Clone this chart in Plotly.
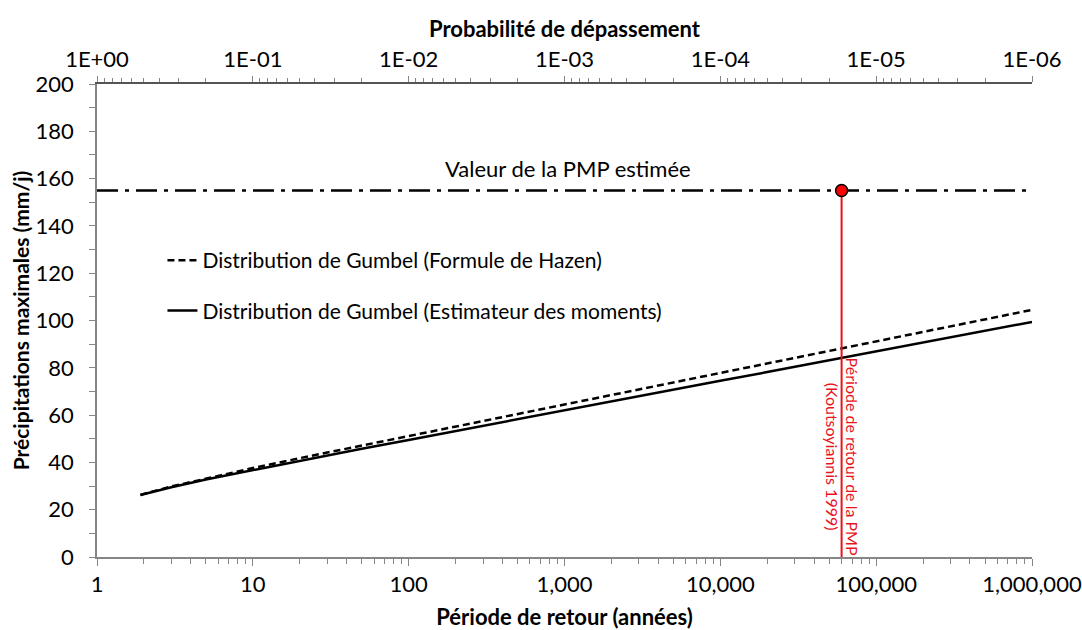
import plotly.graph_objects as go

# Return periods (years) and the two Gumbel fits (mm/j)
periods = [1.9, 2, 3, 5, 10, 20, 50, 100, 200, 500, 1000, 2000, 5000,
           10000, 20000, 50000, 100000, 200000, 500000, 1000000]
gumbel_hazen = [26.2, 26.7, 29.8, 33.2, 37.6, 41.8, 47.1, 51.2, 55.2, 60.5,
                64.5, 68.6, 73.9, 77.9, 81.9, 87.2, 91.2, 95.2, 100.5, 104.5]
gumbel_moments = [26.2, 26.6, 29.5, 32.8, 36.8, 40.7, 45.8, 49.5, 53.3, 58.3,
                  62.0, 65.8, 70.7, 74.5, 78.2, 83.2, 86.9, 90.7, 95.6, 99.4]

# Estimated PMP and its return period (Koutsoyiannis 1999)
pmp_value = 155
pmp_period = 60000
pmp_span = [1, 1000000]

# Axis ticks
period_ticks = [1, 10, 100, 1000, 10000, 100000, 1000000]
period_labels = ["1", "10", "100", "1,000", "10,000", "100,000", "1,000,000"]
prob_ticks = [1, 1e-1, 1e-2, 1e-3, 1e-4, 1e-5, 1e-6]
prob_labels = ["1E+00", "1E-01", "1E-02", "1E-03", "1E-04", "1E-05", "1E-06"]

FONT = "Lato"
AXIS_GREY = "#868686"
RED = "#E8141B"

period_minor = [k * 10 ** d for d in range(6) for k in range(2, 10)]
prob_minor = [k * 10.0 ** (-d - 1) for d in range(6) for k in range(2, 10)]

fig = go.Figure()

fig.add_trace(go.Scatter(
    x=periods, y=gumbel_hazen, mode="lines",
    name="Distribution de Gumbel (Formule de Hazen)",
    line=dict(color="black", width=2.5, dash="7px,4px"),
    legendgroup="a",
))
fig.add_trace(go.Scatter(
    x=periods, y=gumbel_moments, mode="lines",
    name="Distribution de Gumbel (Estimateur des moments)",
    line=dict(color="black", width=2.5),
    legendgroup="b",
))

# PMP level
fig.add_trace(go.Scatter(
    x=pmp_span, y=[pmp_value, pmp_value], mode="lines",
    line=dict(color="black", width=2.5, dash="21px,7px,4px,7px"),
    showlegend=False, hoverinfo="skip",
))

# Return period of the PMP
fig.add_trace(go.Scatter(
    x=[pmp_period, pmp_period], y=[0, pmp_value], mode="lines",
    line=dict(color=RED, width=2),
    showlegend=False, hoverinfo="skip",
))
fig.add_trace(go.Scatter(
    x=[pmp_period], y=[pmp_value], mode="markers",
    marker=dict(color="#FF0000", size=12, line=dict(color="black", width=1.5)),
    showlegend=False,
))

# Empty trace carrying the top probability axis
fig.add_trace(go.Scatter(
    x=[1 / p for p in period_ticks], y=[None] * len(period_ticks),
    xaxis="x2", mode="lines", showlegend=False, hoverinfo="skip",
))

fig.add_annotation(
    x=3.02, y=pmp_value, xref="x", yref="y", yshift=22, showarrow=False,
    text="Valeur de la PMP estimée",
    font=dict(family=FONT, size=22, color="black"),
)
fig.add_annotation(
    x=4.78, y=42.5, xref="x", yref="y", showarrow=False, textangle=90,
    text="Période de retour de la PMP<br>(Koutsoyiannis 1999)",
    font=dict(family=FONT, size=16, color=RED),
)

fig.update_layout(
    width=1082, height=630,
    margin=dict(l=97, r=50, t=84, b=73),
    paper_bgcolor="white", plot_bgcolor="white",
    font=dict(family=FONT, size=22, color="black"),
    showlegend=True,
    legend=dict(
        x=0.07, y=0.67, xanchor="left", yanchor="top",
        bgcolor="rgba(0,0,0,0)", font=dict(size=21),
        traceorder="grouped", tracegroupgap=20,
    ),
    xaxis=dict(
        type="log", range=[0, 6], automargin=False,
        tickmode="array", tickvals=period_ticks, ticktext=period_labels,
        ticks="outside", ticklen=7, tickcolor=AXIS_GREY,
        minor=dict(tickmode="array", tickvals=period_minor,
                   ticks="outside", ticklen=5, tickcolor=AXIS_GREY),
        showline=True, linecolor=AXIS_GREY, linewidth=1.5,
        showgrid=False, zeroline=False,
        tickfont=dict(size=22),
        title=dict(text="<b>Période de retour (années)</b>",
                   font=dict(size=22), standoff=15),
    ),
    xaxis2=dict(
        type="log", range=[0, -6], overlaying="x", side="top", automargin=False,
        tickmode="array", tickvals=prob_ticks, ticktext=prob_labels,
        ticks="outside", ticklen=6, tickcolor=AXIS_GREY,
        minor=dict(tickmode="array", tickvals=prob_minor,
                   ticks="outside", ticklen=4, tickcolor=AXIS_GREY),
        showline=True, linecolor="#555555", linewidth=1.5,
        showgrid=False, zeroline=False,
        tickfont=dict(size=22),
        title=dict(text="<b>Probabilité de dépassement</b>",
                   font=dict(size=22), standoff=2),
    ),
    yaxis=dict(
        range=[0, 200], tickmode="linear", tick0=0, dtick=20, automargin=False,
        ticks="outside", ticklen=6, tickcolor=AXIS_GREY,
        minor=dict(dtick=10, ticks="outside", ticklen=6, tickcolor=AXIS_GREY),
        showline=True, linecolor=AXIS_GREY, linewidth=1.5,
        showgrid=False, zeroline=False,
        tickfont=dict(size=22), ticksuffix="\u2002",
        title=dict(text="<b>Précipitations maximales (mm/j)</b>",
                   font=dict(size=21), standoff=0),
    ),
)

fig.write_html("out.html")
